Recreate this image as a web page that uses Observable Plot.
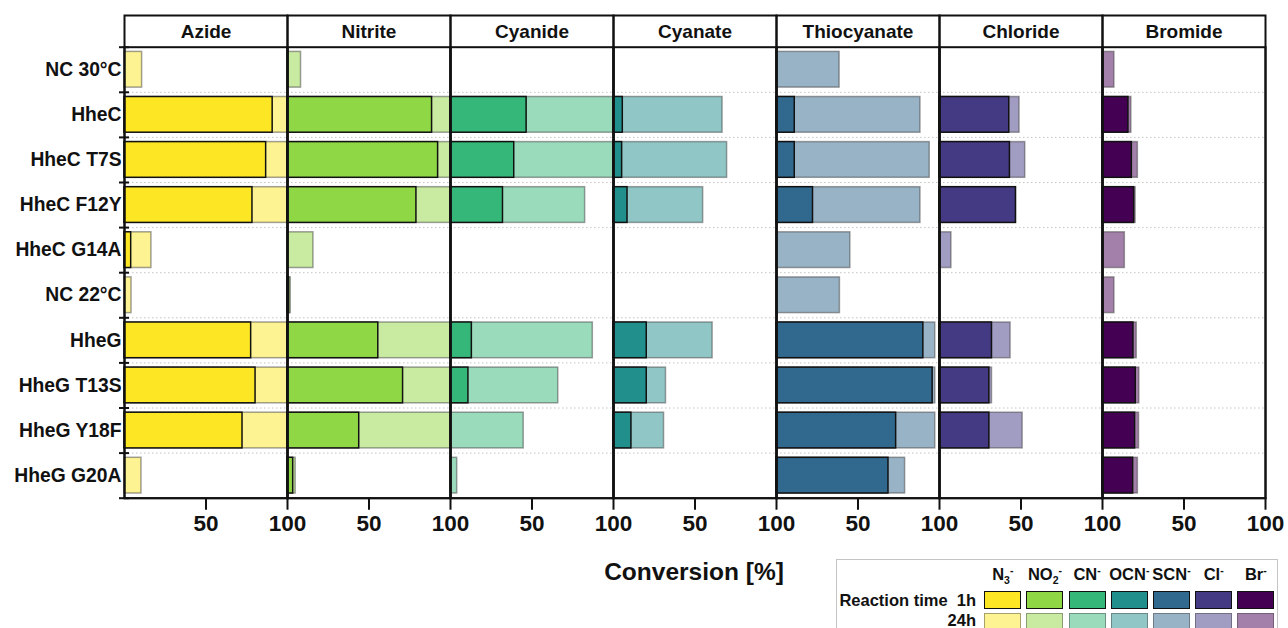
<!DOCTYPE html>
<html><head><meta charset="utf-8">
<script src="https://cdn.jsdelivr.net/npm/d3@7"></script>
<script src="https://cdn.jsdelivr.net/npm/@observablehq/plot@0.6"></script>
<style>
body{margin:0;background:#fff;font-family:'Liberation Sans',Arial,sans-serif;font-weight:bold;color:#111}
#wrap{position:relative;width:1288px;height:628px;overflow:hidden;background:#fff}
#below{position:relative;height:78px}
#title{position:absolute;left:574px;width:240px;top:8px;line-height:28px;text-align:center;font-size:24.5px}
#legend{position:absolute;left:836px;top:9px;width:442px;height:100px;border:1.5px solid #c4c4c4;box-sizing:border-box}
.ion{position:absolute;font-size:16.5px;line-height:18px;text-align:center;width:56px;white-space:nowrap}
.ion sub,.ion sup{font-size:10.5px;line-height:0}
.sw{position:absolute;width:37px;height:18px;box-sizing:border-box}
.rl{position:absolute;font-size:16.5px;line-height:16px;text-align:right;white-space:pre}
</style></head><body>
<div id="wrap"><div id="chart"></div><div id="below"><div id="title">Conversion [%]</div><div id="legend"></div></div></div>
<script>
const samples = ["NC 30°C","HheC","HheC T7S","HheC F12Y","HheC G14A","NC 22°C","HheG","HheG T13S","HheG Y18F","HheG G20A"];
const anions = ["Azide","Nitrite","Cyanide","Cyanate","Thiocyanate","Chloride","Bromide"];
const ionLabels = ["N<sub>3</sub><sup>-</sup>","NO<sub>2</sub><sup>-</sup>","CN<sup>-</sup>","OCN<sup>-</sup>","SCN<sup>-</sup>","Cl<sup>-</sup>","Br<sup>-</sup>"];
const times = ["1h","24h"];
const xTicks = [50, 100];

const azide_1h      = [null, 90.9, 86.9, 78.5, 4.1, null, 77.7, 80.4, 72.4, null];
const azide_24h     = [10.8, 100, 100, 100, 16.5, 4.3, 100, 100, 100, 10.4];
const nitrite_1h    = [null, 88.7, 92.4, 79.1, null, 1, 55.7, 70.9, 44, 3.5];
const nitrite_24h   = [8.3, 100, 100, 100, 15.9, 2, 100, 100, 100, 5];
const cyanide_1h    = [null, 46.7, 39.1, 32.2, null, null, 13.1, 11, null, null];
const cyanide_24h   = [null, 100, 100, 82.6, null, null, 87.3, 66.1, 44.9, 4.1];
const cyanate_1h    = [null, 5.7, 5.3, 8.6, null, null, 20.4, 20.4, 11, null];
const cyanate_24h   = [null, 66.9, 69.7, 55, null, null, 60.8, 32.2, 31, null];
const thiocyan_1h   = [null, 11.2, 11.2, 22.4, null, null, 90.1, 95.8, 73.4, 68.7];
const thiocyan_24h  = [38.7, 88.3, 94, 88.3, 45.3, 38.9, 97.4, 97.4, 97.4, 78.9];
const chloride_1h   = [null, 42.8, 43.2, 46.9, null, null, 32.2, 30.6, 30.6, null];
const chloride_24h  = [null, 49.1, 52.6, 46.9, 7.3, null, 43.6, 32.2, 51, null];
const bromide_1h    = [null, 15.9, 18, 19.4, null, null, 19, 20.4, 20, 18.8];
const bromide_24h   = [7.3, 17.7, 21.7, 20.3, 13.7, 7.3, 21, 22.6, 22.4, 21.7];

const colors1h  = ["#FDE725","#8FD744","#35B779","#21908D","#31688E","#443983","#440154"];
const colors24h = ["#FEF392","#C8EBA1","#9ADBBC","#90C7C6","#98B3C6","#A19CC1","#A380A9"];

const series = [
  [azide_1h, azide_24h], [nitrite_1h, nitrite_24h], [cyanide_1h, cyanide_24h],
  [cyanate_1h, cyanate_24h], [thiocyan_1h, thiocyan_24h], [chloride_1h, chloride_24h],
  [bromide_1h, bromide_24h]
];
const rows = [];
anions.forEach((a, ai) => times.forEach((t, ti) => series[ai][ti].forEach((v, i) => {
  if (v != null) rows.push({anion: a, sample: samples[i], row: i, time: t, key: a + " " + t, value: v});
})));
const keys = times.flatMap(t => anions.map(a => a + " " + t));
const keyColors = colors1h.concat(colors24h);

const font = "'Liberation Sans', Arial, sans-serif";
const barOpts = {fx: "anion", x1: 0, x2: "value", y1: "row", y2: d => d.row + 1, insetTop: 4.7, insetBottom: 4.7, fill: "key", strokeWidth: 1.5};

const chart = Plot.plot({
  width: 1288, height: 550,
  marginTop: 46.7, marginBottom: 52.3, marginLeft: 122.3, marginRight: 21.3,
  style: {fontFamily: font, fontWeight: "bold", color: "#111", background: "#fff", overflow: "visible"},
  fx: {domain: anions, padding: 0, axis: null, label: null},
  x: {domain: [0, 100], axis: null},
  y: {domain: [0, samples.length], reverse: true, axis: null},
  color: {domain: keys, range: keyColors},
  marks: [
    Plot.gridY({ticks: d3.range(1, samples.length), stroke: "#c4c4c4", strokeOpacity: 1, strokeDasharray: "1.5,2.5"}),
    Plot.rectX(rows.filter(d => d.time === "24h"), {...barOpts, stroke: "#444", strokeOpacity: 0.5}),
    Plot.rectX(rows.filter(d => d.time === "1h"), {...barOpts, stroke: "#111"}),
    Plot.frame({stroke: "#111", strokeWidth: 2}),
    Plot.frame({stroke: "#111", strokeWidth: 2, insetTop: -31.7}),
    Plot.axisFx({anchor: "top", tickSize: 0, tickPadding: 9.5, fontSize: 19, label: null}),
    Plot.axisY({ticks: d3.range(samples.length).map(i => i + 0.5), tickFormat: v => samples[Math.floor(v)], tickSize: 0, tickPadding: 3, fontSize: 19.3, label: null}),
    Plot.axisY({ticks: d3.range(samples.length + 1), tickFormat: () => "", tickSize: 10, dx: 5, strokeWidth: 2, stroke: "#111", label: null}),
    Plot.axisX({ticks: xTicks, tickSize: 12, tickPadding: 5, fontSize: 22.5, strokeWidth: 2, stroke: "#111", label: null})
  ]
});
document.getElementById("chart").appendChild(chart);

// legend (positions relative to the legend box)
const lg = document.getElementById("legend");
const boxLeft = 836, boxTop = 559;
const swLeft0 = 983.3, swStep = 42.17;
anions.forEach((a, i) => {
  const x = swLeft0 + i * swStep - boxLeft;
  const lab = document.createElement("div");
  lab.className = "ion"; lab.innerHTML = ionLabels[i];
  lab.style.left = (x + 18.5 - 28) + "px"; lab.style.top = (573 - boxTop - 9) + "px";
  lg.appendChild(lab);
  [[colors1h, "#111", 590], [colors24h, "rgba(60,60,60,0.45)", 611.7]].forEach(([cols, st, top]) => {
    const s = document.createElement("div");
    s.className = "sw"; s.style.left = x + "px"; s.style.top = (top - boxTop) + "px";
    s.style.background = cols[i]; s.style.border = "1.5px solid " + st;
    lg.appendChild(s);
  });
});
[["Reaction time  1h", 599.3], ["24h", 618.5]].forEach(([t, cy]) => {
  const d = document.createElement("div");
  d.className = "rl"; d.textContent = t;
  d.style.right = (boxLeft + 442 - 977) + "px"; d.style.top = (cy - boxTop - 8) + "px";
  lg.appendChild(d);
});
</script>
</body></html>
